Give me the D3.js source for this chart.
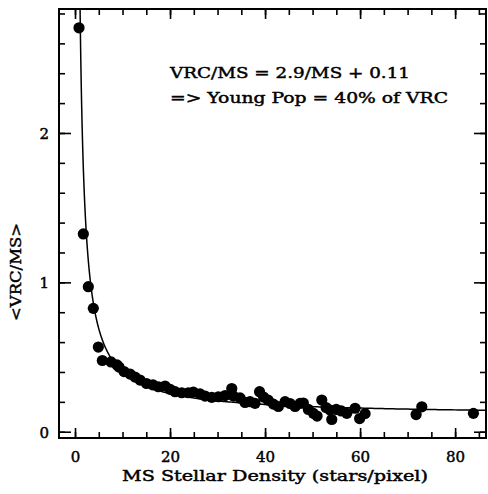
<!DOCTYPE html>
<html>
<head>
<meta charset="utf-8">
<script src="https://cdn.jsdelivr.net/npm/d3@7"></script>
<style>
  body { margin: 0; background: #fff; }
  text { font-family: "DejaVu Serif", serif; fill: #000; stroke: #000; stroke-width: 0.45px; }
</style>
</head>
<body>
<div id="chart"></div>
<script>
// Plot size
const width = 488;
const height = 494;

// Measured points: MS stellar density and <VRC/MS>
const density = [
  0.84, 1.75, 2.80, 3.85, 4.91, 5.75, 7.58, 8.84, 9.26, 10.32,
  11.58, 12.63, 13.68, 15.05, 16.42, 17.54, 18.95, 20.0, 21.05, 22.46,
  23.85, 24.9, 26.32, 27.37, 28.78, 30.17, 31.58, 32.99, 33.33, 34.74,
  35.79, 36.84, 37.89, 38.84, 39.68, 40.63, 41.75, 42.8, 44.21, 45.26,
  46.32, 47.37, 48.06, 49.12, 50.17, 50.95, 51.94, 52.84, 53.68, 54.04,
  54.99, 56.04, 57.2, 58.95, 59.9, 61.05, 71.79, 72.99, 83.85
];
const ratio = [
  2.704, 1.324, 0.971, 0.826, 0.567, 0.477, 0.467, 0.447, 0.433, 0.403,
  0.386, 0.366, 0.346, 0.323, 0.313, 0.301, 0.306, 0.284, 0.268, 0.261,
  0.261, 0.266, 0.253, 0.239, 0.230, 0.234, 0.242, 0.289, 0.239, 0.226,
  0.196, 0.201, 0.190, 0.268, 0.232, 0.212, 0.185, 0.169, 0.201, 0.189,
  0.169, 0.190, 0.192, 0.149, 0.123, 0.105, 0.212, 0.162, 0.145, 0.082,
  0.149, 0.139, 0.123, 0.157, 0.088, 0.121, 0.115, 0.167, 0.123
];

// Fit shown in the annotation: VRC/MS = a/MS + b
const fitA = 2.9;
const fitB = 0.11;

// Tick values
const xMajor = [0, 20, 40, 60, 80];
const xMinor = d3.range(0, 90, 5);
const yMajor = [0, 1, 2];
const yMinor = d3.range(0, 2.81, 0.2);

const svg = d3
  .select("#chart")
  .append("svg")
  .attr("width", width)
  .attr("height", height);

const x = d3.scaleLinear().domain([-3.37, 86.5]).range([59, 486]);
const y = d3.scaleLinear().domain([-0.042, 2.83]).range([438, 9]);

// Clip for the fitted curve
svg.append("clipPath").attr("id", "plot-clip")
  .append("rect")
  .attr("x", x.range()[0]).attr("y", y.range()[1])
  .attr("width", x.range()[1] - x.range()[0])
  .attr("height", y.range()[0] - y.range()[1]);

// Axes with inward ticks on all four sides
function drawAxis(axisFn, scale, values, size, tx, ty, labels) {
  const g = svg.append("g")
    .attr("transform", `translate(${tx},${ty})`)
    .call(axisFn(scale).tickValues(values).tickSize(size).tickSizeOuter(0)
      .tickFormat(labels ? d3.format("d") : ""));
  g.select(".domain").remove();
  g.selectAll(".tick line").attr("stroke", "#000").attr("stroke-width", 1.6);
  return g;
}

const x0 = x.range()[0], x1 = x.range()[1];
const y0 = y.range()[0], y1 = y.range()[1];

// bottom
drawAxis(d3.axisBottom, x, xMinor, -6, 0, y0, false);
const xb = drawAxis(d3.axisBottom, x, xMajor, -10, 0, y0, true);
xb.selectAll(".tick text")
  .attr("y", 24).attr("dy", 0)
  .style("font-size", "15px");
// top
drawAxis(d3.axisTop, x, xMinor, -6, 0, y1, false);
drawAxis(d3.axisTop, x, xMajor, -10, 0, y1, false);
// left
drawAxis(d3.axisLeft, y, yMinor, -6, x0, 0, false);
const yl = drawAxis(d3.axisLeft, y, yMajor, -12, x0, 0, true);
yl.selectAll(".tick text")
  .attr("x", -10).attr("dy", "0.36em")
  .style("font-size", "15px");
// right
drawAxis(d3.axisRight, y, yMinor, -6, x1, 0, false);
drawAxis(d3.axisRight, y, yMajor, -12, x1, 0, false);

// Frame
svg.append("rect")
  .attr("x", x0).attr("y", y1)
  .attr("width", x1 - x0).attr("height", y0 - y1)
  .attr("fill", "none").attr("stroke", "#000").attr("stroke-width", 2);

// Fitted curve
const xStart = fitA / (y.domain()[1] - fitB);
const curveX = d3.range(0, 1.0001, 0.002).map((t) => xStart * Math.pow(x.domain()[1] / xStart, t));
svg.append("path")
  .datum(curveX)
  .attr("clip-path", "url(#plot-clip)")
  .attr("fill", "none")
  .attr("stroke", "#000")
  .attr("stroke-width", 1.5)
  .attr("d", d3.line().x((d) => x(d)).y((d) => y(fitA / d + fitB)));

// Points
svg.append("g")
  .selectAll("circle")
  .data(density)
  .enter()
  .append("circle")
  .attr("cx", (d) => x(d))
  .attr("cy", (d, i) => y(ratio[i]))
  .attr("r", 5.6)
  .attr("fill", "#000");

// Annotation
svg.append("text")
  .attr("x", 170).attr("y", 78)
  .attr("textLength", 240).attr("lengthAdjust", "spacingAndGlyphs")
  .style("font-size", "15px")
  .text("VRC/MS = 2.9/MS + 0.11");
svg.append("text")
  .attr("x", 170).attr("y", 103)
  .attr("textLength", 278).attr("lengthAdjust", "spacingAndGlyphs")
  .style("font-size", "15px")
  .text("=> Young Pop = 40% of VRC");

// Axis titles
svg.append("text")
  .attr("x", 122).attr("y", 481)
  .attr("textLength", 306).attr("lengthAdjust", "spacingAndGlyphs")
  .style("font-size", "15px")
  .text("MS Stellar Density (stars/pixel)");
svg.append("text")
  .attr("transform", "translate(21,272) rotate(-90)")
  .attr("text-anchor", "middle")
  .attr("textLength", 98).attr("lengthAdjust", "spacingAndGlyphs")
  .style("font-size", "15px")
  .text("<VRC/MS>");
</script>
</body>
</html>
